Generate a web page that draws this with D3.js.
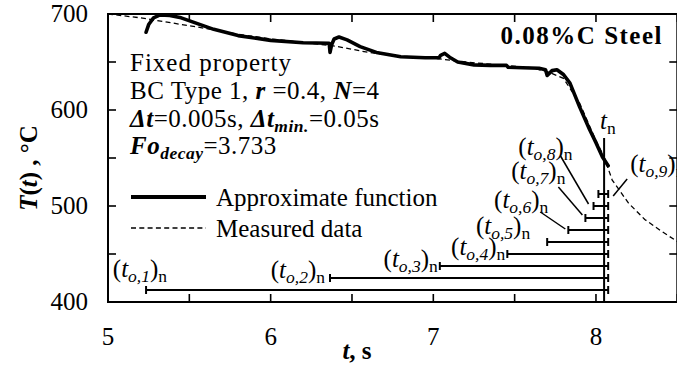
<!DOCTYPE html>
<html>
<head>
<meta charset="utf-8">
<script src="https://cdn.jsdelivr.net/npm/d3@7"></script>
<style>
  body { margin: 0; background: #fff; }
  svg { display: block; }
  text { font-family: "Liberation Serif", "Times New Roman", serif; fill: #000; }
</style>
</head>
<body>
<svg id="chart" width="677" height="365"></svg>
<script>
// measured temperature (dashed)
var measuredTime = [5.0, 5.2, 5.4, 5.6, 5.8, 6.0, 6.2, 6.4, 6.6, 6.8, 7.0, 7.2, 7.4, 7.6, 7.7, 7.8, 7.9, 8.0, 8.05, 8.1, 8.2, 8.3, 8.4, 8.5];
var measuredTemp = [700, 696, 690.5, 685, 679, 674, 670.5, 666.5, 660, 656, 654, 650, 647, 644, 640, 633, 607, 568, 551, 527, 503, 486, 474, 463];

// approximate function (thick solid)
var approxTime = [5.234, 5.25, 5.28, 5.32, 5.38, 5.45, 5.55, 5.65, 5.8, 6.0, 6.2, 6.36, 6.365, 6.375, 6.39, 6.42, 6.47, 6.55, 6.65, 6.8, 6.95, 7.035, 7.045, 7.07, 7.1, 7.15, 7.25, 7.35, 7.45, 7.46, 7.55, 7.65, 7.69, 7.70, 7.73, 7.76, 7.80, 7.84, 7.90, 7.96, 8.0, 8.04, 8.075];
var approxTemp = [681, 689, 696, 699, 698.5, 696, 690, 684, 677.5, 672.5, 670, 669.5, 660, 668, 674, 676, 673, 666, 660, 655.5, 654.5, 654.5, 657, 659, 655, 650, 647, 646.5, 646.5, 644.5, 644, 643.5, 642, 636, 641, 642, 637, 628, 603, 580, 566, 551, 542];

// window starts (t_o,k)_n and their bar levels
var windowStart = [5.234, 6.365, 7.04, 7.455, 7.70, 7.83, 7.935, 7.985, 8.015];
var windowLevel = [412.5, 425, 437.5, 450, 462.5, 475, 487.5, 500, 512.5];
var windowIndex = ['1', '2', '3', '4', '5', '6', '7', '8', '9'];
var tNow = 8.05;
var windowEnd = 8.075;

var xTicks = [5, 5.5, 6, 6.5, 7, 7.5, 8, 8.5];
var xLabels = [5, 6, 7, 8];
var yTicks = [400, 450, 500, 550, 600, 650, 700];
var yLabels = [400, 500, 600, 700];

var svg = d3.select('#chart');
var margin = {left: 108, top: 14, bottom: 302};
var fs = 25;

var x = d3.scaleLinear().domain([5, 8.5]).range([margin.left, 677.3]);
var y = d3.scaleLinear().domain([400, 700]).range([margin.bottom, margin.top]);

/*
 * Text with italic / bold / subscript pieces
 */
function richText(g, px, py, parts, size, anchor) {
  var t = g.append('text')
    .attr('x', px)
    .attr('y', py)
    .attr('font-size', size)
    .attr('text-anchor', anchor || 'start');
  var shift = 0;
  parts.forEach(function(p) {
    var s = t.append('tspan').text(p.t);
    var want = p.sub ? 5 : 0;
    if (want !== shift) {
      s.attr('dy', want - shift);
      shift = want;
    }
    if (p.sub) s.attr('font-size', size * 0.7);
    if (p.i) s.attr('font-style', 'italic');
    if (p.b) s.attr('font-weight', 'bold');
  });
  return t;
}

// Frame
var frame = svg.append('g');
frame.append('rect')
  .attr('x', x(5)).attr('y', y(700))
  .attr('width', x(8.5) - x(5)).attr('height', y(400) - y(700))
  .attr('fill', 'none').attr('stroke', '#000').attr('stroke-width', 2);

// Ticks (inward on all sides)
var tickLen = 8;
frame.selectAll('.xtb').data(xTicks).enter().append('line')
  .attr('x1', function(d) { return x(d); }).attr('x2', function(d) { return x(d); })
  .attr('y1', y(400)).attr('y2', y(400) - tickLen)
  .attr('stroke', '#000').attr('stroke-width', 1.6);
frame.selectAll('.xtt').data(xTicks).enter().append('line')
  .attr('x1', function(d) { return x(d); }).attr('x2', function(d) { return x(d); })
  .attr('y1', y(700)).attr('y2', y(700) + tickLen)
  .attr('stroke', '#000').attr('stroke-width', 1.6);
frame.selectAll('.ytl').data(yTicks).enter().append('line')
  .attr('x1', x(5)).attr('x2', x(5) + tickLen)
  .attr('y1', function(d) { return y(d); }).attr('y2', function(d) { return y(d); })
  .attr('stroke', '#000').attr('stroke-width', 1.6);
frame.selectAll('.ytr').data(yTicks).enter().append('line')
  .attr('x1', x(8.5)).attr('x2', x(8.5) - tickLen)
  .attr('y1', function(d) { return y(d); }).attr('y2', function(d) { return y(d); })
  .attr('stroke', '#000').attr('stroke-width', 1.6);

// Tick labels
svg.selectAll('.xl').data(xLabels).enter().append('text')
  .attr('x', function(d) { return x(d); })
  .attr('y', 345)
  .attr('text-anchor', 'middle')
  .attr('font-size', fs)
  .text(function(d) { return d; });
svg.selectAll('.yl').data(yLabels).enter().append('text')
  .attr('x', 88)
  .attr('y', function(d) { return y(d) + 8; })
  .attr('text-anchor', 'end')
  .attr('font-size', fs)
  .text(function(d) { return d; });

// Axis titles
richText(svg, 357, 359, [{t: 't', i: true, b: true}, {t: ', s', b: true}], fs, 'middle');
var yt = svg.append('g').attr('transform', 'translate(37,168) rotate(-90)');
richText(yt, 0, 0, [{t: 'T', i: true, b: true}, {t: '(', b: true}, {t: 't', i: true, b: true}, {t: ') , °C', b: true}], fs, 'middle');

// Curves
var measuredLine = d3.line()
  .x(function(d, i) { return x(measuredTime[i]); })
  .y(function(d) { return y(d); });
var approxLine = d3.line()
  .x(function(d, i) { return x(approxTime[i]); })
  .y(function(d) { return y(d); });

svg.append('path')
  .attr('d', measuredLine(measuredTemp))
  .attr('fill', 'none').attr('stroke', '#000')
  .attr('stroke-width', 1.3).attr('stroke-dasharray', '5,3.3');
svg.append('path')
  .attr('d', approxLine(approxTemp))
  .attr('fill', 'none').attr('stroke', '#000')
  .attr('stroke-width', 3.6).attr('stroke-linejoin', 'round').attr('stroke-linecap', 'round');

// Window bars
var bars = svg.append('g');
windowStart.forEach(function(t0, k) {
  var yy = y(windowLevel[k]);
  bars.append('line')
    .attr('x1', x(t0)).attr('x2', x(windowEnd))
    .attr('y1', yy).attr('y2', yy)
    .attr('stroke', '#000').attr('stroke-width', 2);
  [t0, windowEnd].forEach(function(tc) {
    bars.append('line')
      .attr('x1', x(tc)).attr('x2', x(tc))
      .attr('y1', yy - 4).attr('y2', yy + 4)
      .attr('stroke', '#000').attr('stroke-width', 2);
  });
});
bars.append('line')
  .attr('x1', x(tNow)).attr('x2', x(tNow))
  .attr('y1', 138).attr('y2', y(400))
  .attr('stroke', '#000').attr('stroke-width', 2);

// Window labels, placed around the left end of each bar
var labelDx = [21, -5, -2, -2, -17, -20, -20, -21, 22];
var labelDy = [-13, 0, 1, 1, -8, -22, -39, -51, -22];
var labelAnchor = ['end', 'end', 'end', 'end', 'end', 'end', 'end', 'end', 'start'];
windowStart.forEach(function(t0, k) {
  var ax = k === 8 ? x(windowEnd) : x(t0);
  richText(svg, ax + labelDx[k], y(windowLevel[k]) + labelDy[k], [
    {t: '('}, {t: 't', i: true}, {t: 'o,' + windowIndex[k], i: true, sub: true},
    {t: ')'}, {t: 'n', sub: true}
  ], fs, labelAnchor[k]);
});
// leader lines for the crowded labels
var leaders = [
  {k: 5, from: [-28, -18], to: [-3, -1]},
  {k: 6, from: [-27, -31], to: [-3, -3]},
  {k: 7, from: [-33, -50], to: [-5, -2]},
  {k: 8, from: [19, -15], to: [5, 2], end: true}
];
leaders.forEach(function(l) {
  var ax = l.end ? x(windowEnd) : x(windowStart[l.k]);
  var ay = y(windowLevel[l.k]);
  svg.append('line')
    .attr('x1', ax + l.from[0]).attr('y1', ay + l.from[1])
    .attr('x2', ax + l.to[0]).attr('y2', ay + l.to[1])
    .attr('stroke', '#000').attr('stroke-width', 1.5);
});
richText(svg, x(tNow) - 4, 129, [{t: 't', i: true}, {t: 'n', sub: true}], fs, 'start');

// Notes
var notes = svg.append('g');
richText(notes, 663, 44, [{t: '0.08%C Steel', b: true}], fs, 'end').attr('letter-spacing', 1.5);
richText(notes, 130, 71, [{t: 'Fixed property'}], fs).attr('letter-spacing', 1);
richText(notes, 130, 99, [
  {t: 'BC Type 1, '}, {t: 'r', i: true, b: true}, {t: ' =0.4, '}, {t: 'N', i: true, b: true}, {t: '=4'}
], fs).attr('letter-spacing', 0.5);
richText(notes, 130, 127, [
  {t: 'Δt', i: true, b: true}, {t: '=0.005s, '}, {t: 'Δt', i: true, b: true},
  {t: 'min.', i: true, b: true, sub: true}, {t: '=0.05s'}
], fs).attr('letter-spacing', 0.5);
richText(notes, 130, 154, [
  {t: 'Fo', i: true, b: true}, {t: 'decay', i: true, b: true, sub: true}, {t: '=3.733'}
], fs).attr('letter-spacing', 0.5);

// Legend
var legend = svg.append('g');
legend.append('line')
  .attr('x1', 131).attr('x2', 206).attr('y1', 197).attr('y2', 197)
  .attr('stroke', '#000').attr('stroke-width', 4);
legend.append('line')
  .attr('x1', 131).attr('x2', 206).attr('y1', 228).attr('y2', 228)
  .attr('stroke', '#000').attr('stroke-width', 1.3).attr('stroke-dasharray', '5,3.3');
richText(legend, 216, 206, [{t: 'Approximate function'}], fs);
richText(legend, 216, 237, [{t: 'Measured data'}], fs);
</script>
</body>
</html>
